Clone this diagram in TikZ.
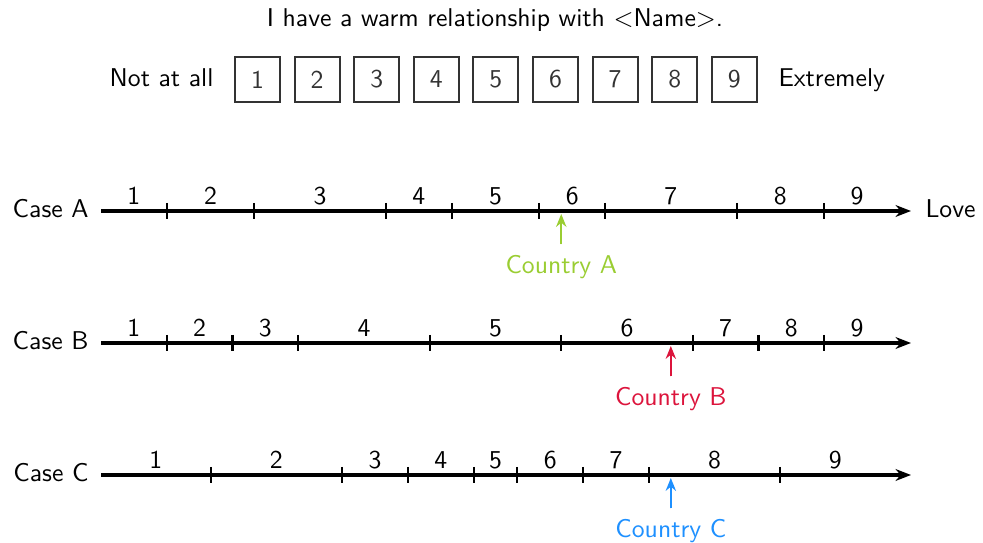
\documentclass[tikz,border=0pt]{standalone}
\usetikzlibrary{arrows.meta}
\definecolor{boxgray}{RGB}{51,51,51}
\definecolor{colA}{RGB}{154,205,50}
\definecolor{colB}{RGB}{220,20,60}
\definecolor{colC}{RGB}{30,144,255}
\begin{document}
\begin{tikzpicture}[x=0.389pt,y=-0.389pt,font=\sffamily,
  txt/.style={inner sep=0pt,anchor=base},
  rbox/.style={draw=boxgray,line width=0.8pt,minimum size=17.5pt,inner sep=0pt,text=boxgray},
  axisline/.style={line width=1.2pt,-{Stealth[length=6pt,width=4.6pt]}},
  tickline/.style={line width=0.8pt},
  ptr/.style={line width=0.9pt,-{Stealth[length=5pt,width=4pt]}}]
\useasboundingbox (0,0) rectangle (983,543);
% header
\node[txt] (title) at (495,27) {I have a warm relationship with $<$Name$>$.};
\foreach \i in {1,...,9}
  \node[rbox] (b\i) at ({257.5+59.6*(\i-1)},79.5) {\i};
\node[txt,anchor=base east] (lo) at (214,87) {Not at all};
\node[txt,anchor=base west] (hi) at (778,87) {Extremely};
% Case A
\coordinate (A0) at (101,211);
\coordinate (A1) at (911,211);
\node[txt,anchor=base east] (Alab) at (89,218) {Case A};
\draw[axisline] (A0) -- (A1);
\foreach \u in {3,7,13,16,20,23,29,33}
  \draw[tickline] ({101+21.9167*\u},203) -- ({101+21.9167*\u},219);
\foreach \a/\b [count=\n] in {0/3,3/7,7/13,13/16,16/20,20/23,23/29,29/33,33/36}
  \node[txt] (A-\n) at ({101+21.9167*(\a+\b)/2},205) {\n};
\node[txt,anchor=base west] (love) at (925,218) {Love};
\coordinate (pA) at ({101+21.9167*21},214);
\node[txt,text=colA] (cA) at ({101+21.9167*21},274) {Country A};
\draw[ptr,draw=colA,fill=colA] ([yshift=4.3pt]cA.north) -- (pA);
% Case B
\coordinate (B0) at (101,343);
\coordinate (B1) at (911,343);
\node[txt,anchor=base east] (Blab) at (89,350) {Case B};
\draw[axisline] (B0) -- (B1);
\foreach \u in {3,6,9,15,21,27,30,33}
  \draw[tickline] ({101+21.9167*\u},335) -- ({101+21.9167*\u},351);
\foreach \a/\b [count=\n] in {0/3,3/6,6/9,9/15,15/21,21/27,27/30,30/33,33/36}
  \node[txt] (B-\n) at ({101+21.9167*(\a+\b)/2},337) {\n};
\coordinate (pB) at ({101+21.9167*26},346);
\node[txt,text=colB] (cB) at ({101+21.9167*26},406) {Country B};
\draw[ptr,draw=colB,fill=colB] ([yshift=4.3pt]cB.north) -- (pB);
% Case C
\coordinate (C0) at (101,475);
\coordinate (C1) at (911,475);
\node[txt,anchor=base east] (Clab) at (89,482) {Case C};
\draw[axisline] (C0) -- (C1);
\foreach \u in {5,11,14,17,19,22,25,31}
  \draw[tickline] ({101+21.9167*\u},467) -- ({101+21.9167*\u},483);
\foreach \a/\b [count=\n] in {0/5,5/11,11/14,14/17,17/19,19/22,22/25,25/31,31/36}
  \node[txt] (C-\n) at ({101+21.9167*(\a+\b)/2},469) {\n};
\coordinate (pC) at ({101+21.9167*26},478);
\node[txt,text=colC] (cC) at ({101+21.9167*26},538) {Country C};
\draw[ptr,draw=colC,fill=colC] ([yshift=4.3pt]cC.north) -- (pC);
\end{tikzpicture}
\end{document}
